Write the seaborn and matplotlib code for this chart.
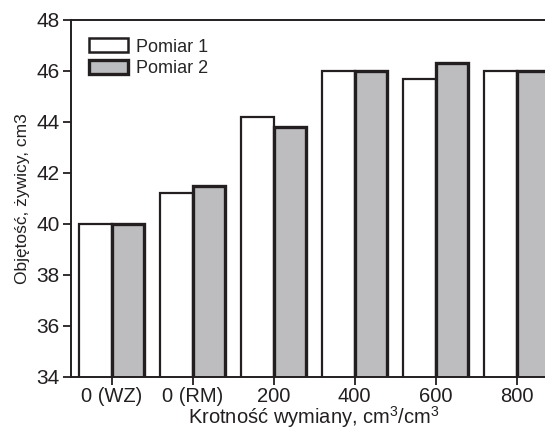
import matplotlib
matplotlib.use("Agg")
import matplotlib.pyplot as plt
from matplotlib.patches import Patch
import seaborn as sns
import pandas as pd

categories = ["0 (WZ)", "0 (RM)", "200", "400", "600", "800"]
pomiar1 = [40.0, 41.2, 44.2, 46.0, 45.7, 46.0]
pomiar2 = [40.0, 41.5, 43.8, 46.0, 46.3, 46.0]
series_names = ["Pomiar 1", "Pomiar 2"]
yticks = [34, 36, 38, 40, 42, 44, 46, 48]

df = pd.DataFrame({
    "cat": categories * 2,
    "val": pomiar1 + pomiar2,
    "series": [series_names[0]] * len(categories) + [series_names[1]] * len(categories),
})

sns.set_style("ticks")
plt.rcParams["font.family"] = ["Liberation Sans", "DejaVu Sans"]
plt.rcParams["mathtext.default"] = "regular"

edge = "#231f20"
grey = "#bcbdc0"
colors = {series_names[0]: "white", series_names[1]: grey}

fig = plt.figure(figsize=(5.45, 4.30), dpi=100)
ax = fig.add_axes([71 / 545, 1 - 377 / 430, (557 - 71) / 545, (377 - 20) / 430])

sns.barplot(data=df, x="cat", y="val", hue="series", order=categories,
            hue_order=series_names, palette=colors, width=0.8,
            edgecolor=edge, linewidth=1.6, ax=ax, legend=False, zorder=2)

n = len(categories)
for i, p in enumerate(ax.patches[: 2 * n]):
    if i >= n:
        p.set_linewidth(2.4)
    else:
        p.set_linewidth(1.6)

ax.set_ylim(34, 48)
ax.set_xlim(-0.5, n - 0.5)
ax.set_yticks(yticks)
ax.tick_params(axis="both", length=6, width=1.3, color=edge, labelcolor="#231f20")
ax.tick_params(axis="x", labelsize=14.5, pad=1)
ax.tick_params(axis="y", labelsize=15, pad=2)
for s in ["left", "bottom", "top"]:
    ax.spines[s].set_linewidth(1.4)
    ax.spines[s].set_color(edge)
ax.spines["right"].set_visible(False)

ax.set_xlabel("Krotność wymiany, cm$^3$/cm$^3$", fontsize=14.5, color="#231f20", labelpad=-1)
ax.set_ylabel("Objętość, żywicy, cm3", fontsize=12.5, color="#231f20", labelpad=5)

handles = [Patch(facecolor="white", edgecolor=edge, linewidth=1.8, label=series_names[0]),
           Patch(facecolor=grey, edgecolor=edge, linewidth=2.4, label=series_names[1])]
ax.legend(handles=handles, loc="upper left", bbox_to_anchor=(0.0, 1.0), frameon=False,
          fontsize=13, handlelength=2.15, handleheight=0.85, handletextpad=0.45,
          labelspacing=0.25, borderaxespad=0.6)

fig.savefig("out.png", dpi=100)
